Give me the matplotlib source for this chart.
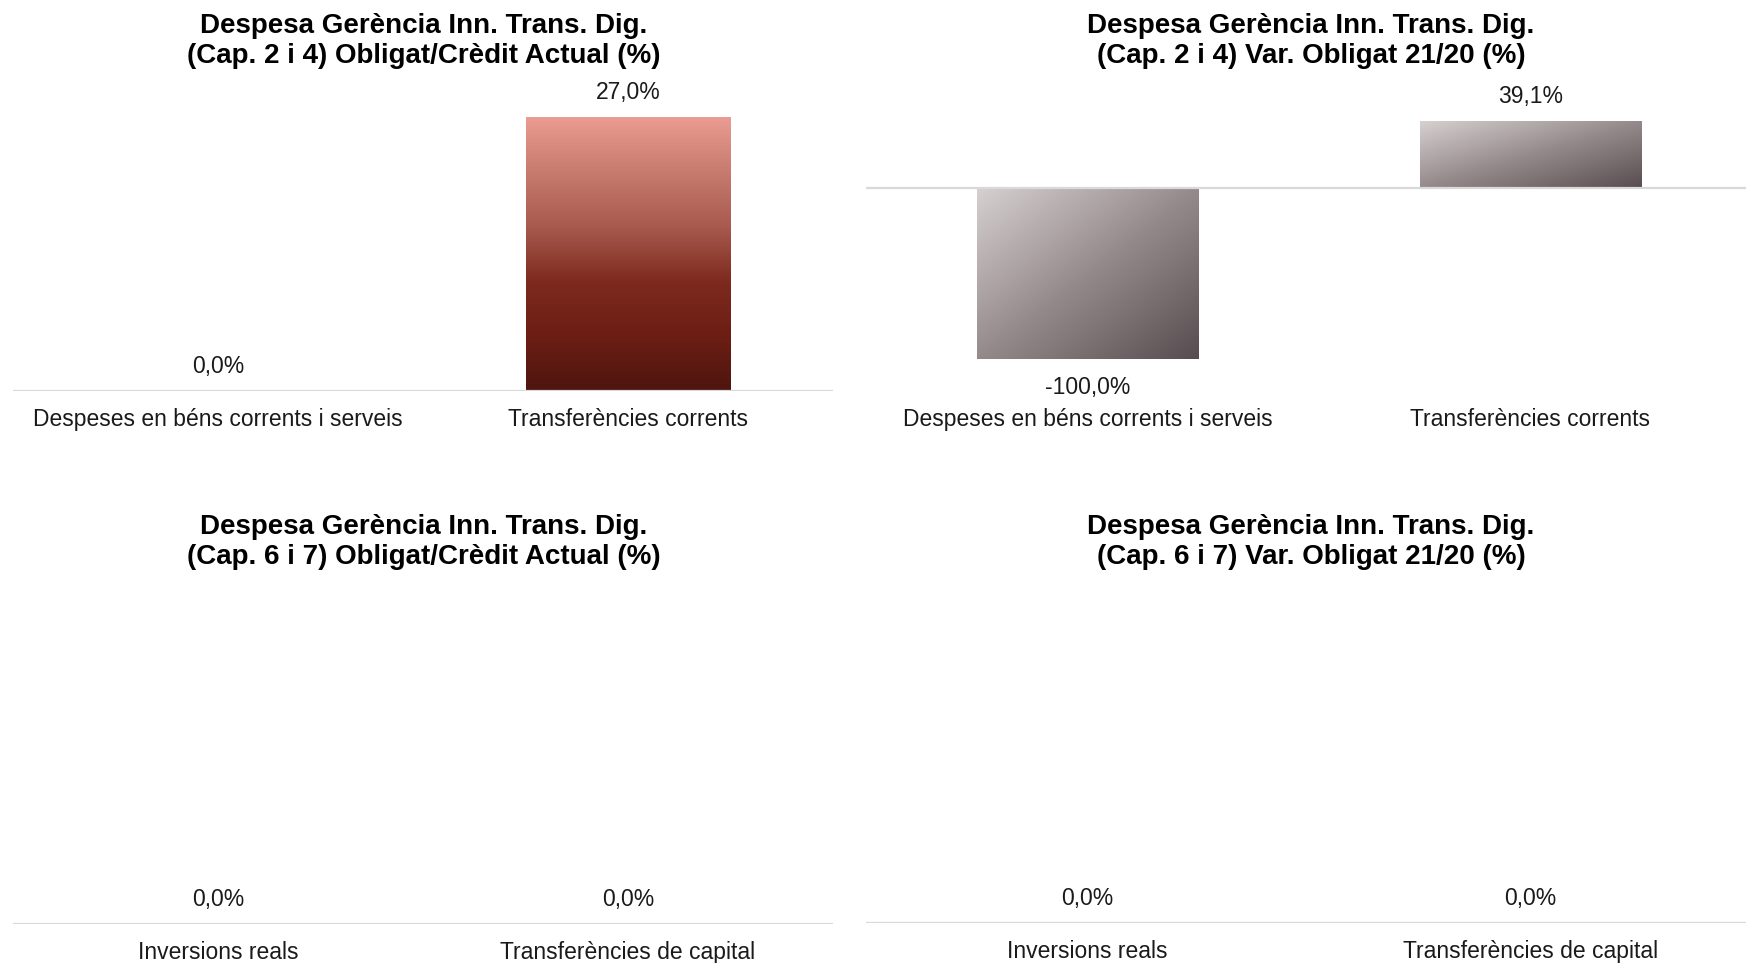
import numpy as np
import matplotlib
matplotlib.use('Agg')
import matplotlib.pyplot as plt
from matplotlib.colors import LinearSegmentedColormap

plt.rcParams['font.family'] = ['Liberation Sans', 'DejaVu Sans']

# data
cats_top = ['Despeses en béns corrents i serveis', 'Transferències corrents']
cats_bottom = ['Inversions reals', 'Transferències de capital']
oblig_credit_2_4 = [0.0, 27.0]
var_oblig_2_4 = [-100.0, 39.1]
oblig_credit_6_7 = [0.0, 0.0]
var_oblig_6_7 = [0.0, 0.0]

titles = [
    'Despesa Gerència Inn. Trans. Dig.\n(Cap. 2 i 4) Obligat/Crèdit Actual (%)',
    'Despesa Gerència Inn. Trans. Dig.\n(Cap. 2 i 4) Var. Obligat 21/20 (%)',
    'Despesa Gerència Inn. Trans. Dig.\n(Cap. 6 i 7) Obligat/Crèdit Actual (%)',
    'Despesa Gerència Inn. Trans. Dig.\n(Cap. 6 i 7) Var. Obligat 21/20 (%)',
]

red_cmap = LinearSegmentedColormap.from_list(
    'red', ['#ea9c92', '#c77a6e', '#a85a4e', '#7e2a1e', '#6c1e14', '#4e150f'])
gray_cmap = LinearSegmentedColormap.from_list('gray', ['#d6d0d0', '#958a8b', '#574d50'])

W, H = 1746, 963
fig = plt.figure(figsize=(W / 100, H / 100), dpi=100)


def add_ax(x0, x1, ytop, ybot):
    return fig.add_axes([x0 / W, 1 - ybot / H, (x1 - x0) / W, (ybot - ytop) / H])


def fmt(v):
    return f'{v:.1f}'.replace('.', ',') + '%'


def draw(ax, cats, vals, ylim, cmap, diagonal, title, title_x, title_y):
    x = np.arange(len(cats))
    bars = ax.bar(x, vals, width=0.5, color='none', edgecolor='none')
    for b, v in zip(bars, vals):
        if v == 0:
            continue
        x0, y0 = b.get_x(), b.get_y()
        x1, y1 = x0 + b.get_width(), y0 + b.get_height()
        n = 256
        if diagonal:
            gx, gy = np.meshgrid(np.linspace(0, 1, n), np.linspace(0, 1, n))
            grad = (gx + gy) / 2
        else:
            grad = np.linspace(0, 1, n)[:, None] * np.ones((1, 2))
        # row 0 of grad goes to the top of the bar
        im = ax.imshow(grad, cmap=cmap, extent=(x0, x1, min(y0, y1), max(y0, y1)),
                       origin='upper', aspect='auto', zorder=2)
        im.set_clip_path(b)
    ax.axhline(0, color='#d9d9d9', lw=1.6, zorder=3)
    for xi, v in zip(x, vals):
        off = -29 if v < 0 else 25
        ax.annotate(fmt(v), (xi, v), xytext=(0, off), textcoords='offset pixels',
                    ha='center', va='center', fontsize=16.5, color='#1a1a1a')
    ax.set_xlim(-0.5, len(cats) - 0.5)
    ax.set_ylim(*ylim)
    ax.set_xticks(x)
    ax.set_xticklabels(cats, fontsize=16.5, color='#1a1a1a')
    ax.tick_params(axis='x', length=0, pad=12)
    ax.set_yticks([])
    for s in ax.spines.values():
        s.set_visible(False)
    ax.patch.set_alpha(0)
    fig.text(title_x / W, 1 - title_y / H, title, ha='center', va='center',
             fontsize=20, fontweight='bold', linespacing=1.23)


ax1 = add_ax(13, 833, 100, 391)
draw(ax1, cats_top, oblig_credit_2_4, (0, 28.7), red_cmap, False, titles[0], 424, 41)

ax2 = add_ax(866, 1752, 100, 391)
draw(ax2, cats_top, var_oblig_2_4, (-119, 51.6), gray_cmap, True, titles[1], 1311, 41)

ax3 = add_ax(13, 833, 580, 924)
draw(ax3, cats_bottom, oblig_credit_6_7, (0, 1), red_cmap, False, titles[2], 424, 542)

ax4 = add_ax(866, 1752, 580, 923)
draw(ax4, cats_bottom, var_oblig_6_7, (0, 1), gray_cmap, True, titles[3], 1311, 542)

fig.savefig('out.png', dpi=100, facecolor='white')
